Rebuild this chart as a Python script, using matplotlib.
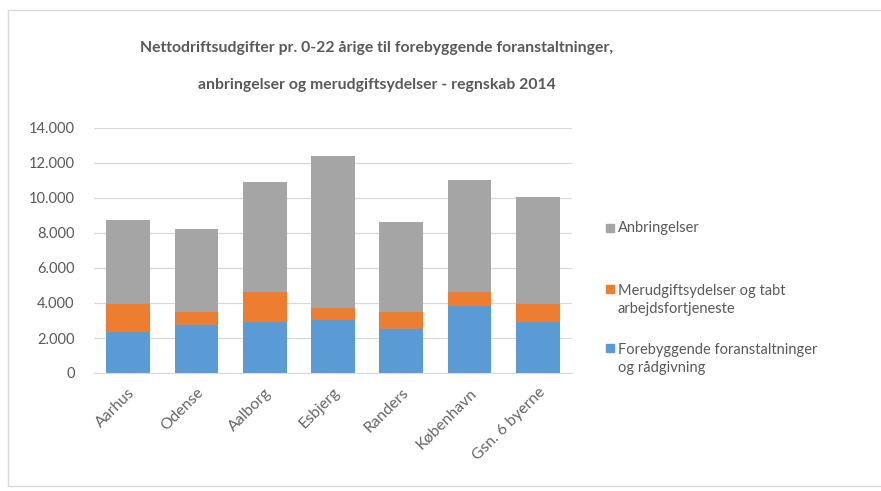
import numpy as np
import matplotlib
matplotlib.use("Agg")
import matplotlib.pyplot as plt
from matplotlib.patches import Rectangle
from matplotlib.ticker import FuncFormatter

plt.rcParams['font.family'] = ['Lato', 'DejaVu Sans']

cities = ['Aarhus', 'Odense', 'Aalborg', 'Esbjerg', 'Randers', 'København', 'Gsn. 6 byerne']
forebyggende = [2350, 2730, 2920, 3020, 2540, 3840, 2920]
merudgift = [1620, 770, 1720, 670, 960, 800, 1050]
anbringelser = [4760, 4710, 6300, 8690, 5150, 6400, 6060]

labels = ['Forebyggende foranstaltninger\nog rådgivning',
          'Merudgiftsydelser og tabt\narbejdsfortjeneste',
          'Anbringelser']
colors = ['#5B9BD5', '#ED7D31', '#A5A5A5']
txt = '#595959'

W, H = 881, 491
fig = plt.figure(figsize=(W / 100, H / 100), dpi=100)
ax = fig.add_axes([94 / W, 1 - 373 / H, (572 - 94) / W, (373 - 128) / H])

x = np.arange(len(cities))
bottom = np.zeros(len(cities))
for vals, col in zip([forebyggende, merudgift, anbringelser], colors):
    ax.bar(x, vals, width=0.64, bottom=bottom, color=col, zorder=2)
    bottom += np.array(vals)

ax.set_xlim(-0.5, 6.5)
ax.set_ylim(0, 14000)
ax.set_yticks(np.arange(0, 14001, 2000))
ax.yaxis.set_major_formatter(FuncFormatter(lambda v, p: f'{int(v):,}'.replace(',', '.')))
ax.grid(axis='y', color='#D9D9D9', lw=0.9, zorder=0)
for s in ['top', 'right', 'left']:
    ax.spines[s].set_visible(False)
ax.spines['bottom'].set_color('#D9D9D9')
ax.tick_params(axis='y', length=0, pad=14, labelsize=10.5, labelcolor=txt)
ax.tick_params(axis='x', length=0, pad=9, labelsize=11.3, labelcolor='#666666')
ax.set_xticks(x)
ax.set_xticklabels(cities, rotation=45, ha='right', rotation_mode='anchor')

fig.text(377 / W, 1 - 48 / H,
         'Nettodriftsudgifter pr. 0-22 årige til forebyggende foranstaltninger,',
         ha='center', va='center', fontsize=11.3, fontweight='bold', color=txt)
fig.text(377 / W, 1 - 85 / H,
         'anbringelser og merudgiftsydelser - regnskab 2014',
         ha='center', va='center', fontsize=11.3, fontweight='bold', color=txt)

# legend, top entry first
leg_y = [228, 300, 359]
for lab, col, yy in zip(labels[::-1], colors[::-1], leg_y):
    first_y = yy - 11 * lab.count('\n')
    fig.patches.append(Rectangle((606 / W, 1 - (first_y + 4) / H), 8 / W, 8 / H,
                                 transform=fig.transFigure, color=col))
    fig.text(618 / W, 1 - yy / H, lab, ha='left', va='center', fontsize=10.5,
             color=txt, linespacing=1.45)

fig.patches.append(Rectangle((8 / W, 1 - 486 / H), 1.2, (486 - 10) / H,
                             transform=fig.transFigure, fill=False,
                             edgecolor='#D9D9D9', lw=1))

fig.savefig('out.png', dpi=100)
